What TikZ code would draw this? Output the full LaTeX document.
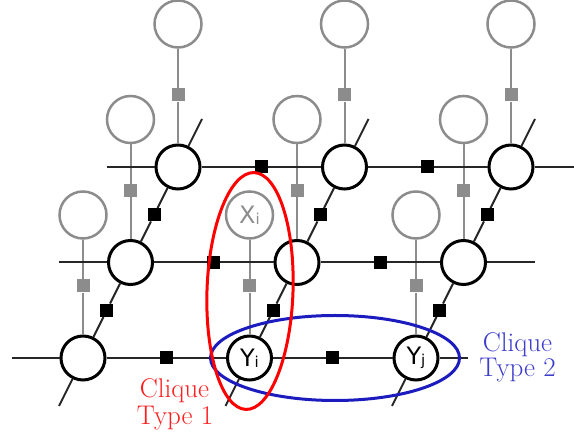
\documentclass[tikz,border=0pt]{standalone}
\usepackage{fontspec}
\usetikzlibrary{shapes.geometric}
\newfontfamily\labelfont{DejaVu Sans}
\definecolor{fgray}{RGB}{140,140,140}
\definecolor{cliqueblue}{RGB}{28,28,190}
\definecolor{textblue}{RGB}{60,60,205}
\definecolor{textred}{RGB}{255,30,30}
\begin{document}
\begin{tikzpicture}[x=1pt,y=-1pt,
  hidden/.style={circle,draw=black,line width=3pt,minimum size=44pt,inner sep=0pt},
  observed/.style={circle,draw=fgray,line width=2.5pt,minimum size=47pt,inner sep=0pt},
  edgefactor/.style={fill=black,minimum size=13pt,inner sep=0pt},
  obsfactor/.style={fill=fgray,minimum size=13pt,inner sep=0pt},
  chain/.style={line width=2pt,draw=black!85},
  obsline/.style={line width=2pt,draw=fgray},
  cliquefont/.style={font=\fontsize{27}{29}\selectfont,anchor=base},
  varfont/.style={font=\labelfont\fontsize{24}{24}\selectfont}]
\useasboundingbox (0,0) rectangle (574,438);

% grid of hidden variables, their observations and observation factors
\foreach \c in {0,1,2}{
  \foreach \r in {0,1,2}{
    \pgfmathsetmacro\px{83+166.5*\c+47.5*\r}
    \pgfmathsetmacro\py{358-95.5*\r}
    \node[hidden] (y\c\r) at (\px,\py) {};
    \node[observed] (o\c\r) at (\px,\py-143) {};
    \node[obsfactor] (g\c\r) at (\px,\py-72) {};
    \draw[obsline] (o\c\r) -- (g\c\r) -- (y\c\r);
  }
}

% pairwise factors along the rows
\foreach \r in {0,1,2}{
  \foreach \c in {0,1}{
    \pgfmathsetmacro\px{83+166.5*\c+47.5*\r+83.25}
    \pgfmathsetmacro\py{358-95.5*\r}
    \node[edgefactor] (h\c\r) at (\px,\py) {};
  }
}

% pairwise factors along the depth direction
\foreach \c in {0,1,2}{
  \foreach \r in {0,1}{
    \pgfmathsetmacro\px{83+166.5*\c+47.5*\r+23.75}
    \pgfmathsetmacro\py{358-95.5*\r-47.75}
    \node[edgefactor] (d\c\r) at (\px,\py) {};
  }
  \pgfmathsetmacro\px{83+166.5*\c}
  \coordinate (b\c) at (\px-24,406);
  \coordinate (t\c) at (\px+95+24,119);
}

% loose ends of the row chains
\coordinate (l0) at (12,358);
\coordinate (e0) at (468,358);
\coordinate (l1) at (58.5,262.5);
\coordinate (e1) at (535,262.5);
\coordinate (l2) at (107,167);
\coordinate (e2) at (576,167);

\foreach \r in {0,1,2}{
  \draw[chain] (l\r) -- (y0\r) -- (h0\r) -- (y1\r) -- (h1\r) -- (y2\r) -- (e\r);
}
\foreach \c in {0,1,2}{
  \draw[chain] (b\c) -- (y\c0) -- (d\c0) -- (y\c1) -- (d\c1) -- (y\c2) -- (t\c);
}

% variable names
\node[varfont,text=fgray] (xi) at (o10) {X\raisebox{-1pt}{\fontsize{15}{15}\selectfont i}};
\node[varfont] (yi) at (y10) {Y\raisebox{-1pt}{\fontsize{15}{15}\selectfont i}};
\node[varfont] (yj) at (y20) {Y\raisebox{-1pt}{\fontsize{15}{15}\selectfont j}};

% the two clique types
\node[ellipse,draw=cliqueblue,line width=3pt,minimum width=249pt,minimum height=85pt,inner sep=0pt] (typetwo) at (335,358) {};
\node[ellipse,draw=red,line width=3pt,minimum width=86pt,minimum height=237pt,inner sep=0pt,rotate=-2] (typeone) at (250,291) {};

\node[cliquefont,text=textred] (onea) at (174.5,398) {Clique};
\node[cliquefont,text=textred] (oneb) at (175,425) {Type 1};
\node[cliquefont,text=textblue] (twoa) at (517.5,352) {Clique};
\node[cliquefont,text=textblue] (twob) at (517.5,377) {Type 2};
\end{tikzpicture}
\end{document}
